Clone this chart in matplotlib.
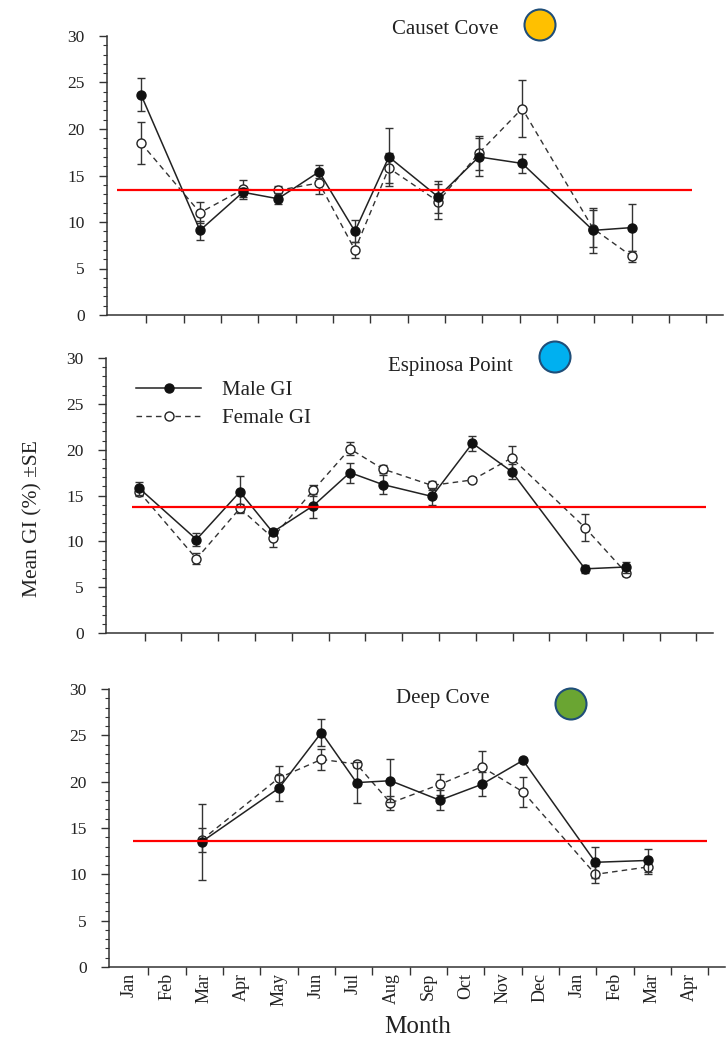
import numpy as np
import matplotlib
matplotlib.use("Agg")
import matplotlib.pyplot as plt
from matplotlib.patches import Ellipse
from matplotlib.ticker import MultipleLocator, FixedLocator

plt.rcParams['font.family'] = ['Liberation Serif', 'DejaVu Serif']

W, H = 728, 1039

months = ['Jan', 'Feb', 'Mar', 'Apr', 'May', 'Jun', 'Jul', 'Aug',
          'Sep', 'Oct', 'Nov', 'Dec', 'Jan', 'Feb', 'Mar', 'Apr']

# Causet Cove (sampling dates as fractional month index)
cc_x = [0.36, 1.94, 3.09, 4.03, 5.13, 6.09, 7.0, 8.32, 9.41, 10.57, 12.47, 13.51]
cc_male = [23.7, 9.1, 13.2, 12.5, 15.4, 9.0, 17.0, 12.7, 17.0, 16.3, 9.1, 9.4]
cc_male_se = [1.8, 1.0, 0.5, 0.6, 0.7, 1.2, 3.1, 1.7, 2.0, 1.0, 2.4, 2.5]
cc_female = [18.5, 11.0, 13.5, 13.4, 14.2, 7.0, 15.8, 12.2, 17.4, 22.2, 9.3, 6.3]
cc_female_se = [2.3, 1.1, 1.0, 0.5, 1.2, 0.9, 1.6, 1.9, 1.8, 3.1, 2.0, 0.6]
cc_mean = 13.4

# Espinosa Point
ep_x = [0.35, 1.91, 3.09, 3.98, 5.09, 6.08, 6.97, 8.31, 9.41, 10.48, 12.47, 13.58]
ep_male = [15.8, 10.2, 15.4, 11.0, 13.9, 17.5, 16.2, 14.9, 20.7, 17.6, 7.0, 7.2]
ep_male_se = [0.7, 0.7, 1.7, 0.3, 1.3, 1.1, 1.0, 0.9, 0.8, 0.8, 0.4, 0.6]
ep_female = [15.4, 8.1, 13.6, 10.4, 15.6, 20.1, 17.9, 16.1, 16.7, 19.1, 11.5, 6.6]
ep_female_se = [0.5, 0.6, 0.5, 1.0, 0.6, 0.7, 0.4, 0.5, 0.2, 1.3, 1.5, 0.4]
ep_mean = 13.7

# Deep Cove
dc_x = [1.93, 4.0, 5.14, 6.08, 6.99, 8.31, 9.43, 10.54, 12.48, 13.89]
dc_male = [13.5, 19.3, 25.3, 19.9, 20.1, 18.0, 19.7, 22.3, 11.3, 11.5]
dc_male_se = [4.1, 1.4, 1.5, 2.2, 2.3, 1.1, 1.3, 0.2, 1.7, 1.2]
dc_female = [13.7, 20.4, 22.4, 21.9, 17.7, 19.7, 21.6, 18.9, 10.0, 10.8]
dc_female_se = [1.3, 1.3, 1.1, 0.3, 0.8, 1.1, 1.7, 1.6, 0.9, 0.8]
dc_mean = 13.6


def px_axes(left, top, right, bottom):
  """pixel box -> figure fraction rect"""
  return [left / W, 1 - bottom / H, (right - left) / W, (bottom - top) / H]


def draw_panel(ax, x, male, male_se, female, female_se, mean, red_span, show_months=False):
  ax.errorbar(x, female, yerr=female_se, fmt='o', ls=(0, (4, 3)), color='#333333', lw=1.0,
              mfc='white', mec='#222222', ms=6.5, mew=1.0, capsize=3, elinewidth=1.0,
              ecolor='#333333', zorder=3, label='Female GI')
  ax.errorbar(x, male, yerr=male_se, fmt='o', ls='-', color='#222222', lw=1.1,
              mfc='#111111', mec='#111111', ms=6.5, capsize=3, elinewidth=1.0,
              ecolor='#333333', zorder=4, label='Male GI')
  ax.hlines(mean, red_span[0], red_span[1], color='red', lw=1.6, zorder=5)

  ax.set_xlim(-0.55, 15.95)
  ax.set_ylim(0, 30)
  for s in ['top', 'right']:
    ax.spines[s].set_visible(False)
  for s in ['left', 'bottom']:
    ax.spines[s].set_color('#333333')
    ax.spines[s].set_linewidth(1.1)
  ax.yaxis.set_major_locator(MultipleLocator(5))
  ax.yaxis.set_minor_locator(MultipleLocator(1))
  ax.tick_params(axis='y', which='major', direction='out', length=6, width=1, colors='#333333',
                 labelsize=12.5, labelcolor='#222222', pad=10)
  ax.tick_params(axis='y', which='minor', direction='out', length=3, width=0.8, colors='#333333')
  ax.xaxis.set_major_locator(FixedLocator(np.arange(0.5, 16, 1)))
  ax.xaxis.set_minor_locator(FixedLocator(np.arange(len(months))))
  ax.tick_params(axis='x', which='major', direction='out', length=6, width=1, colors='#333333')
  ax.tick_params(axis='x', which='minor', length=0)
  ax.set_xticklabels([])
  if show_months:
    ax.set_xticklabels(months, minor=True, rotation=90, fontsize=13, color='#222222')
    ax.tick_params(axis='x', which='minor', pad=4)


def add_title(fig, text, tx, ty, cx, cy, color):
  fig.text(tx / W, 1 - ty / H, text, ha='center', va='center', fontsize=15, color='#222222')
  r = 15.5
  fig.add_artist(Ellipse((cx / W, 1 - cy / H), 2 * r / W, 2 * r / H, transform=fig.transFigure,
                         facecolor=color, edgecolor='#1F4E79', lw=1.5))


def main():
  fig = plt.figure(figsize=(W / 100, H / 100), dpi=100)

  ax1 = fig.add_axes(px_axes(107, 36, 723, 315))
  draw_panel(ax1, cc_x, cc_male, cc_male_se, cc_female, cc_female_se, cc_mean, (-0.28, 15.12))

  ax2 = fig.add_axes(px_axes(106, 358, 713, 633))
  draw_panel(ax2, ep_x, ep_male, ep_male_se, ep_female, ep_female_se, ep_mean, (0.16, 15.76))

  ax3 = fig.add_axes(px_axes(109, 689, 725, 967))
  draw_panel(ax3, dc_x, dc_male, dc_male_se, dc_female, dc_female_se, dc_mean, (0.09, 15.46),
             show_months=True)

  # legend in the middle panel
  h, l = ax2.get_legend_handles_labels()
  handles = [h[1][0], h[0][0]]
  ax2.legend(handles, ['Male GI', 'Female GI'], loc='upper left', bbox_to_anchor=(0.05, 0.918),
             frameon=False, fontsize=15, handlelength=3.1, handletextpad=1.0,
             labelspacing=0.4, borderpad=0, borderaxespad=0, labelcolor='#222222')

  add_title(fig, 'Causet Cove', 445, 30, 540, 25, '#FFC000')
  add_title(fig, 'Espinosa Point', 450, 367, 555, 357, '#00B0F0')
  add_title(fig, 'Deep Cove', 443, 698, 571, 704, '#6AA532')

  fig.text(33 / W, 1 - 519 / H, 'Mean GI (%) \u00b1SE', rotation=90, ha='center', va='center',
           fontsize=15.5, color='#222222')
  fig.text(418 / W, 1 - 1027 / H, 'Month', ha='center', va='center', fontsize=18, color='#222222')

  fig.savefig('out.png', dpi=100)


if __name__ == '__main__':
  main()
